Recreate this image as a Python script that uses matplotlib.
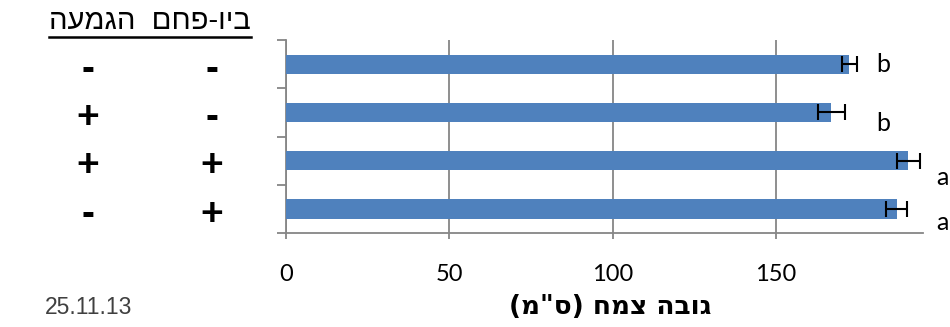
import matplotlib.pyplot as plt
from matplotlib.lines import Line2D
from matplotlib.transforms import blended_transform_factory

# treatment table (one row per bar, top to bottom)
biochar = ["-", "-", "+", "+"]
drench = ["-", "+", "+", "-"]

# plant height, cm
plant_height = [172.5, 167.0, 190.5, 187.0]
height_err = [2.3, 4.0, 3.5, 3.2]
groups = ["b", "b", "a", "a"]
x_ticks = [0, 50, 100, 150]

# Hebrew strings in visual (left-to-right) order, since matplotlib has no bidi
header = "העמגה  םחפ-ויב"
x_label = '(מ"ס) חמצ הבוג'
date_str = "25.11.13"

BAR_BLUE = "#4F81BD"
AXIS_GRAY = "#868686"

fig = plt.figure(figsize=(9.5, 3.27), dpi=100)
ax = fig.add_axes([0.301, 0.2875, 0.6705, 0.590])

rows = list(range(len(plant_height)))
ax.barh(rows, plant_height, height=0.4, color=BAR_BLUE, zorder=3)
ax.errorbar(plant_height, rows, xerr=height_err, fmt="none", ecolor="black",
            elinewidth=1.5, capsize=6, capthick=1.5, zorder=4)

ax.set_xlim(0, 195)
ax.set_ylim(len(rows) - 0.5, -0.5)
ax.set_xticks(x_ticks)
ax.set_xticklabels([str(t) for t in x_ticks], fontfamily="Lato", fontsize=17)
ax.set_yticks([r - 0.5 for r in rows] + [len(rows) - 0.5])
ax.set_yticklabels([])
ax.tick_params(axis="y", direction="out", length=6.5, width=1.3, color=AXIS_GRAY)
ax.tick_params(axis="x", direction="out", length=4, width=1.3, color=AXIS_GRAY, pad=18)
ax.xaxis.grid(True, color=AXIS_GRAY, linewidth=1.3, zorder=0)
ax.set_axisbelow(True)
for side in ("top", "right"):
    ax.spines[side].set_visible(False)
for side in ("left", "bottom"):
    ax.spines[side].set_color(AXIS_GRAY)
    ax.spines[side].set_linewidth(1.3)

# significance letters next to each bar
letter_x = [182.8, 182.8, 201.0, 201.0]
letter_dy = [0.0, 0.23, 0.35, 0.28]
for r, g, lx, dy in zip(rows, groups, letter_x, letter_dy):
    ax.text(lx, r + dy, g, fontfamily="Lato", fontsize=18,
            ha="center", va="center", clip_on=False)

# treatment sign columns on the left, aligned with the bars
trans = blended_transform_factory(fig.transFigure, ax.transData)
for r, s_drench, s_bio in zip(rows, drench, biochar):
    ax.text(0.0926, r + 0.12, s_drench, transform=trans, fontsize=28,
            fontweight="bold", fontfamily="Liberation Sans", ha="center", va="center")
    ax.text(0.223, r + 0.12, s_bio, transform=trans, fontsize=28,
            fontweight="bold", fontfamily="Liberation Sans", ha="center", va="center")

hdr = fig.text(0.158, 0.935, header, fontsize=21,
               fontfamily=["Liberation Sans", "DejaVu Sans"], ha="center", va="center")

fig.text(0.642, 0.061, x_label, fontsize=19, fontweight="bold",
         fontfamily=["DejaVu Sans"], ha="center", va="center")
fig.text(0.047, 0.061, date_str, fontsize=16.5, color="#404040",
         fontfamily="Liberation Sans", ha="left", va="center")

# underline the header using its rendered extent
fig.canvas.draw()
bb = hdr.get_window_extent(fig.canvas.get_renderer()).transformed(fig.transFigure.inverted())
fig.add_artist(Line2D([bb.x0, bb.x1], [bb.y0 - 0.006, bb.y0 - 0.006],
                      transform=fig.transFigure, color="black", linewidth=1.8))

fig.savefig("out.png", dpi=100)
